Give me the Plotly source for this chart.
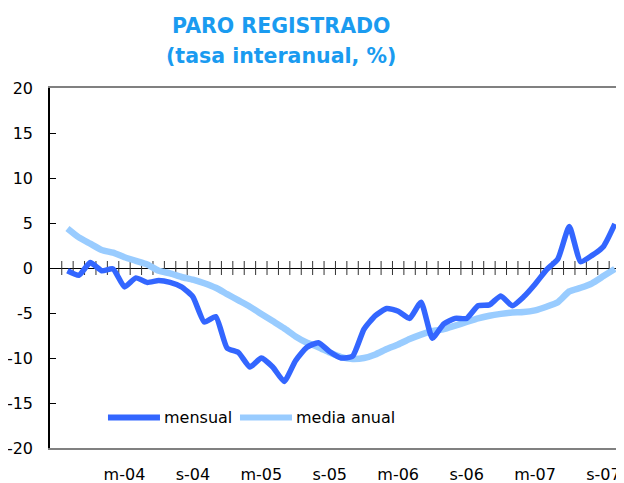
import plotly.graph_objects as go

# Monthly periods, Oct-2003 .. Oct-2007
months = [
    "2003-10", "2003-11", "2003-12",
    "2004-01", "2004-02", "2004-03", "2004-04", "2004-05", "2004-06",
    "2004-07", "2004-08", "2004-09", "2004-10", "2004-11", "2004-12",
    "2005-01", "2005-02", "2005-03", "2005-04", "2005-05", "2005-06",
    "2005-07", "2005-08", "2005-09", "2005-10", "2005-11", "2005-12",
    "2006-01", "2006-02", "2006-03", "2006-04", "2006-05", "2006-06",
    "2006-07", "2006-08", "2006-09", "2006-10", "2006-11", "2006-12",
    "2007-01", "2007-02", "2007-03", "2007-04", "2007-05", "2007-06",
    "2007-07", "2007-08", "2007-09", "2007-10",
]

mensual = [
    -0.3, -0.8, 0.6, -0.3, -0.1, -2.1, -1.1, -1.6, -1.4, -1.6,
    -2.1, -3.2, -6.0, -5.4, -8.9, -9.4, -11.0, -10.0, -11.0, -12.6,
    -10.3, -8.8, -8.3, -9.3, -10.0, -9.8, -6.8, -5.3, -4.5, -4.8,
    -5.6, -3.8, -7.8, -6.2, -5.6, -5.6, -4.2, -4.1, -3.1, -4.2,
    -3.2, -1.8, -0.2, 1.0, 4.6, 0.7, 1.4, 2.4, 4.9,
]

media_anual = [
    4.4, 3.4, 2.7, 2.0, 1.7, 1.2, 0.8, 0.4, -0.3, -0.6,
    -1.0, -1.3, -1.7, -2.2, -2.9, -3.6, -4.3, -5.1, -5.9, -6.7,
    -7.6, -8.3, -8.8, -9.4, -9.9, -10.1, -10.0, -9.6, -9.0, -8.5,
    -7.9, -7.4, -7.0, -6.8, -6.4, -6.0, -5.6, -5.3, -5.1, -4.95,
    -4.9, -4.7, -4.3, -3.8, -2.6, -2.2, -1.7, -0.9, -0.1,
]

tick_labels = ["m-04", "s-04", "m-05", "s-05", "m-06", "s-06", "m-07", "s-07"]
tick_months = ["2004-03", "2004-09", "2005-03", "2005-09",
               "2006-03", "2006-09", "2007-03", "2007-09"]
y_ticks = [-20, -15, -10, -5, 0, 5, 10, 15, 20]
y_tick_labels = ["-20", "-15", "-10", "-5", "0", "5", "10", "15", "20"]

series_names = ["mensual", "media anual"]
colors = ["#3366FF", "#99CCFF"]
title_lines = ["PARO REGISTRADO", "(tasa interanual, %)"]

FONT = "DejaVu Sans"
x = list(range(len(months)))
tick_pos = [months.index(m) for m in tick_months]
boundaries = [i - 0.5 for i in range(len(months) + 1)]
xr = [-1.53, 48.8]

fig = go.Figure()
# category-boundary tick marks crossing the zero line
fig.add_trace(go.Scatter(x=boundaries, y=[0] * len(boundaries), mode="markers",
                         marker=dict(symbol="line-ns", size=10,
                                     line=dict(width=1, color="#333333")),
                         showlegend=False, hoverinfo="skip"))
fig.add_trace(go.Scatter(x=x, y=media_anual, mode="lines", name=series_names[1],
                         line=dict(color=colors[1], width=6.5, shape="spline", smoothing=0.5),
                         showlegend=False))
fig.add_trace(go.Scatter(x=x, y=mensual, mode="lines", name=series_names[0],
                         line=dict(color=colors[0], width=5.5, shape="spline", smoothing=0.5),
                         showlegend=False))

# custom legend (line samples + text)
leg_items = [(0.101, 0.1916, 0.195), (0.331, 0.4216, 0.425)]
for (x0, x1, xt), name, col in zip(leg_items, series_names, colors):
    fig.add_shape(type="line", xref="paper", yref="y", x0=x0, x1=x1, y0=-16.6, y1=-16.6,
                  line=dict(color=col, width=6))
    fig.add_annotation(xref="paper", yref="y", x=xt, y=-16.6, text=name, showarrow=False,
                       xanchor="left", yanchor="middle",
                       font=dict(family=FONT, size=16, color="#000000"))

# title as two annotations
for txt, yy in zip(title_lines, [1.1722, 1.0889]):
    fig.add_annotation(xref="paper", yref="paper", x=0.4024, y=yy, text=txt,
                       showarrow=False, xanchor="center", yanchor="middle",
                       font=dict(family=FONT, size=20.5, color="#1A9BF0", weight="bold"))

# the page body has an 8px margin, so the figure is 8px smaller than the window
fig.update_layout(
    width=616, height=475,
    margin=dict(l=42, r=0, t=80, b=35, autoexpand=False),
    paper_bgcolor="white", plot_bgcolor="white",
    xaxis=dict(range=xr, tickmode="array", tickvals=tick_pos, ticktext=tick_labels,
               ticks="", showgrid=False, zeroline=False, automargin=False,
               showline=True, linecolor="#808080", linewidth=2, mirror=True,
               ticklabelstandoff=11,
               tickfont=dict(family=FONT, size=16, color="#000000")),
    yaxis=dict(range=[-20, 20], tickmode="array", tickvals=y_ticks, ticktext=y_tick_labels,
               ticks="inside", ticklen=6, tickcolor="#000000", tickwidth=1,
               showgrid=False, zeroline=True, zerolinecolor="#000000", zerolinewidth=1,
               automargin=False,
               showline=True, linecolor="#000000", linewidth=1.5,
               ticklabelstandoff=12,
               tickfont=dict(family=FONT, size=16, color="#000000")),
)

fig.write_html("out.html")
